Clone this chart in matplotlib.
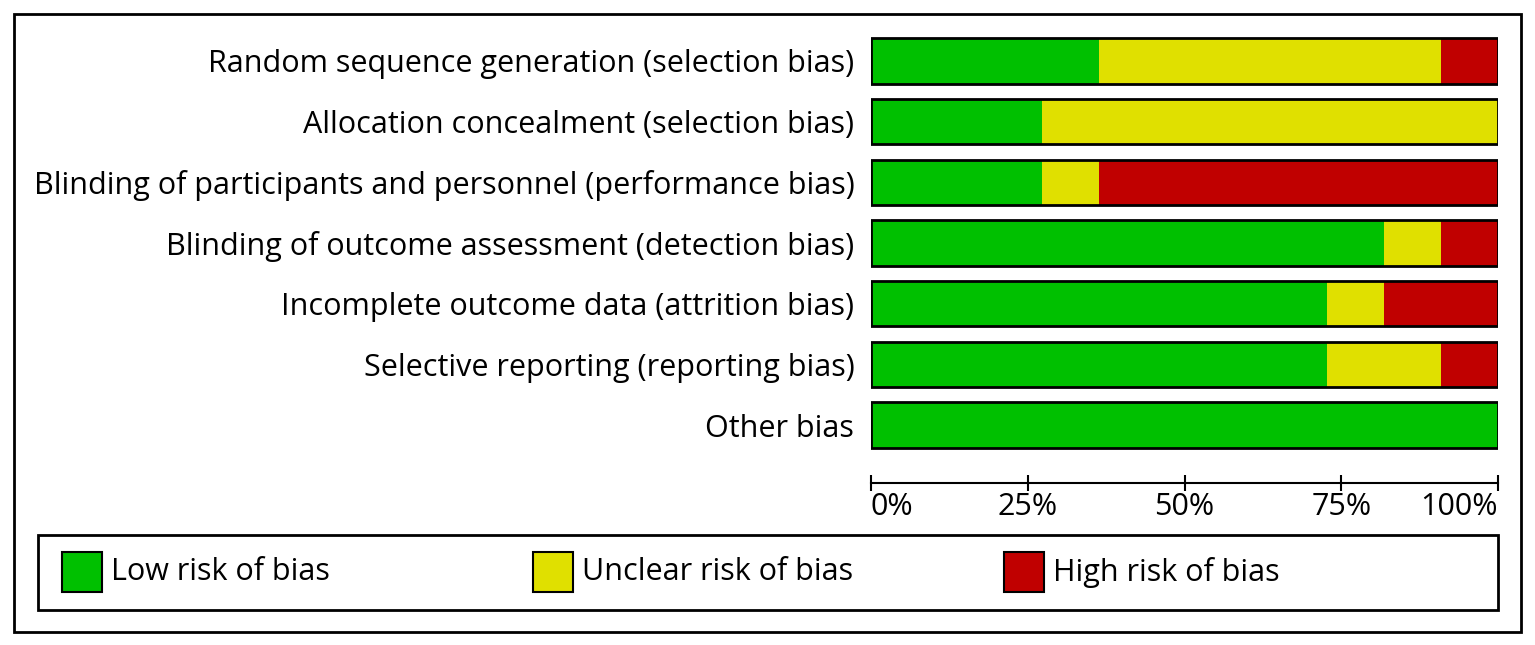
import matplotlib
matplotlib.use("Agg")
import matplotlib.pyplot as plt
import matplotlib.patches as patches

plt.rcParams['font.family'] = ['Open Sans', 'DejaVu Sans']

# risk of bias judgements, share of 11 studies (in %)
domains = [
    "Random sequence generation (selection bias)",
    "Allocation concealment (selection bias)",
    "Blinding of participants and personnel (performance bias)",
    "Blinding of outcome assessment (detection bias)",
    "Incomplete outcome data (attrition bias)",
    "Selective reporting (reporting bias)",
    "Other bias",
]
low = [36.4, 27.3, 27.3, 81.8, 72.7, 72.7, 100.0]
unclear = [54.5, 72.7, 9.1, 9.1, 9.1, 18.2, 0.0]
high = [9.1, 0.0, 63.6, 9.1, 18.2, 9.1, 0.0]
ticks = [0, 25, 50, 75, 100]
tick_labels = ["0%", "25%", "50%", "75%", "100%"]
legend_labels = ["Low risk of bias", "Unclear risk of bias", "High risk of bias"]

GREEN = "#00c000"
YELLOW = "#e0e000"
RED = "#c00000"
FS = 22

W, H = 1535, 645
fig = plt.figure(figsize=(W / 100, H / 100), dpi=100)

# outer frame
fig.patches.append(patches.Rectangle((14 / W, 1 - 632 / H), (1521 - 14) / W, (632 - 14) / H,
                                     transform=fig.transFigure, fill=False, lw=2, ec="black"))

ax = fig.add_axes([871 / W, 1 - 455.5 / H, (1498 - 871) / W, (455.5 - 30.5) / H])
ypos = list(range(len(domains)))
ax.barh(ypos, low, height=0.75, color=GREEN, lw=0)
ax.barh(ypos, unclear, left=low, height=0.75, color=YELLOW, lw=0)
left_high = [a + b for a, b in zip(low, unclear)]
ax.barh(ypos, high, left=left_high, height=0.75, color=RED, lw=0)
totals = [a + b + c for a, b, c in zip(low, unclear, high)]
ax.barh(ypos, totals, height=0.75, fill=False, edgecolor="black", lw=2)

for s in ["top", "right", "left"]:
    ax.spines[s].set_visible(False)
ax.spines["bottom"].set_position(("outward", 20))
ax.spines["bottom"].set_linewidth(1.5)

ax.set_xlim(0, 100)
ax.set_ylim(6.5, -0.5)
ax.set_yticks(ypos)
ax.set_yticklabels(domains)
ax.tick_params(axis="y", length=0, pad=12, labelsize=FS)
ax.set_xticks(ticks)
ax.set_xticklabels(tick_labels)
ax.tick_params(axis="x", direction="inout", length=11, width=1.5, pad=1, labelsize=FS)
ax.xaxis.get_majorticklabels()[0].set_horizontalalignment("left")
ax.xaxis.get_majorticklabels()[-1].set_horizontalalignment("right")

# legend box
fig.patches.append(patches.Rectangle((38 / W, 1 - 610 / H), (1498 - 38) / W, (610 - 535) / H,
                                     transform=fig.transFigure, fill=False, lw=2, ec="black"))
sq_x = [62, 533, 1004]
for x, c, lab in zip(sq_x, [GREEN, YELLOW, RED], legend_labels):
    fig.patches.append(patches.Rectangle((x / W, 1 - 592 / H), 40 / W, 40 / H,
                                         transform=fig.transFigure, fc=c, ec="black", lw=1.5))
    fig.text((x + 49) / W, 1 - 572 / H, lab, fontsize=FS, va="center", ha="left")

fig.savefig("out.png", dpi=100)
